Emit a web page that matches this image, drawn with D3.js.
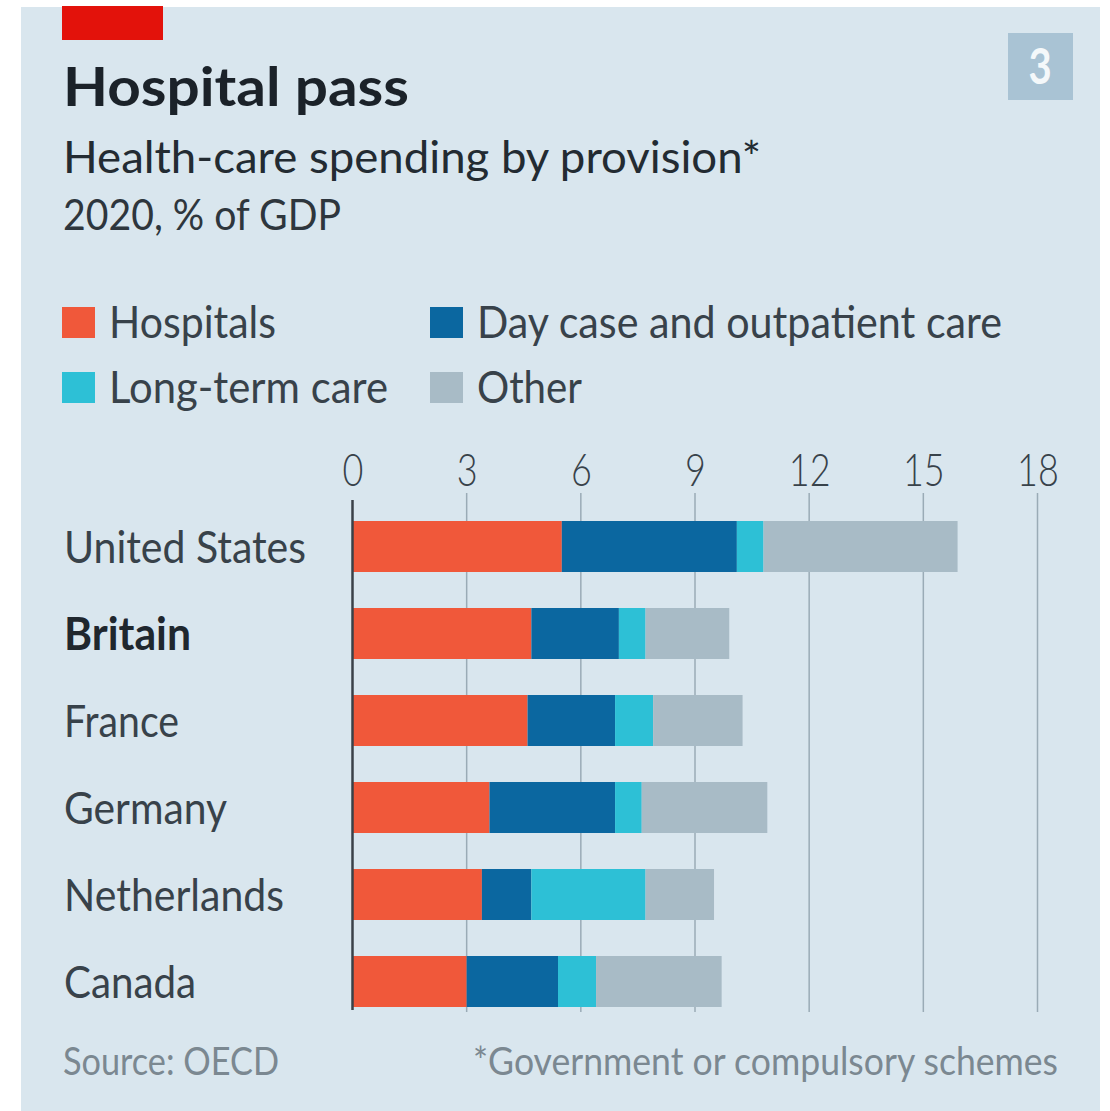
<!DOCTYPE html>
<html><head><meta charset="utf-8">
<script src="https://cdn.jsdelivr.net/npm/d3@7"></script>
<style>
html,body{margin:0;padding:0;background:#fff;}
svg{display:block;}
</style></head>
<body>
<script>
const countries = ["United States","Britain","France","Germany","Netherlands","Canada"];
const seriesNames = ["Hospitals","Day case and outpatient care","Long-term care","Other"];
const hospitals = [5.5, 4.7, 4.6, 3.6, 3.4, 3.0];
const dayCase   = [4.6, 2.3, 2.3, 3.3, 1.3, 2.4];
const longTerm  = [0.7, 0.7, 1.0, 0.7, 3.0, 1.0];
const other     = [5.1, 2.2, 2.35, 3.3, 1.8, 3.3];
const tickValues = [0, 3, 6, 9, 12, 15, 18];
const colors = ["#f0583a", "#0b67a0", "#2dc0d6", "#a8bbc6"];

// layout (not data)
const W = 1110, H = 1111;
const font = "Lato,'Noto Sans',sans-serif";
const labelWidths = {"United States": 242, "Britain": 127, "France": 115, "Germany": 163, "Netherlands": 220, "Canada": 132};
const legendWidths = [167, 525, 279, 105];
const fit = (sel, w) => sel.attr("textLength", w).attr("lengthAdjust", "spacingAndGlyphs");
const condense = (sel, k) => sel.each(function () {
  const L = this.getComputedTextLength();
  d3.select(this).attr("textLength", L * k).attr("lengthAdjust", "spacingAndGlyphs");
});

const svg = d3.select("body").append("svg").attr("width", W).attr("height", H);

svg.append("rect").attr("x", 21).attr("y", 7).attr("width", 1079).attr("height", H - 7).attr("fill", "#d9e6ee");
svg.append("rect").attr("x", 62).attr("y", 6).attr("width", 101).attr("height", 34).attr("fill", "#e3120b");

// badge
svg.append("rect").attr("x", 1008).attr("y", 33).attr("width", 65).attr("height", 67).attr("fill", "#a9c3d4");
svg.append("text").attr("x", 1040).attr("y", 84).attr("text-anchor", "middle")
  .attr("font-family", font).attr("font-weight", 700).attr("font-size", 50).attr("fill", "#f4f8fa").text("3")
  .call(condense, 0.8);

svg.append("text").attr("x", 63).attr("y", 106).attr("font-family", font)
  .attr("font-weight", 700).attr("font-size", 54).attr("fill", "#1b2229").text("Hospital pass")
  .call(fit, 346);
svg.append("text").attr("x", 63).attr("y", 173).attr("font-family", font)
  .attr("font-size", 45).attr("fill", "#232b32").text("Health-care spending by provision*")
  .call(fit, 698);
svg.append("text").attr("x", 63).attr("y", 230).attr("font-family", font)
  .attr("font-size", 42).attr("fill", "#2e363d").text("2020, % of GDP")
  .call(fit, 278);

// legend
const legendPos = [[62, 307], [430, 307], [62, 372], [430, 372]];
const lg = svg.append("g").selectAll("g").data(seriesNames).join("g")
  .attr("transform", (d, i) => `translate(${legendPos[i][0]},${legendPos[i][1]})`);
lg.append("rect").attr("width", 33).attr("height", 31).attr("fill", (d, i) => colors[i]);
lg.append("text").attr("x", 47).attr("y", 31).attr("font-family", font).attr("font-size", 45)
  .attr("fill", "#38424a").text(d => d)
  .each(function (d, i) { d3.select(this).call(fit, legendWidths[i]); });

// scales
const x = d3.scaleLinear().domain([0, 18]).range([352.5, 1037.5]);
const y = d3.scaleBand().domain(countries).range([503, 1025]).paddingInner(0.414).paddingOuter(0.207);

const axis = svg.append("g").attr("transform", "translate(0,486)")
  .call(d3.axisTop(x).tickValues(tickValues).tickSize(0).tickPadding(0));
axis.select(".domain").remove();
axis.selectAll("text").attr("font-family", font).attr("font-size", 45).attr("font-weight", 300)
  .attr("fill", "#38424a").attr("dy", 0)
  .call(condense, 0.8);

// gridlines
svg.append("g").selectAll("line").data(tickValues.slice(1)).join("line")
  .attr("x1", d => x(d)).attr("x2", d => x(d)).attr("y1", 493).attr("y2", 1012)
  .attr("stroke", "#9aabb6").attr("stroke-width", 1.5);

// stacked bars
const rows = countries.map((c, i) => ({country: c, vals: [hospitals[i], dayCase[i], longTerm[i], other[i]]}));
const segs = [];
rows.forEach(r => { let acc = 0; r.vals.forEach((v, k) => { segs.push({country: r.country, k, x0: acc, x1: acc + v}); acc += v; }); });
svg.append("g").selectAll("rect").data(segs).join("rect")
  .attr("x", d => x(d.x0)).attr("width", d => x(d.x1) - x(d.x0))
  .attr("y", d => y(d.country)).attr("height", y.bandwidth())
  .attr("fill", d => colors[d.k]);

// zero line
svg.append("line").attr("x1", x(0)).attr("x2", x(0)).attr("y1", 500).attr("y2", 1010)
  .attr("stroke", "#3a4148").attr("stroke-width", 2.5);

// row labels
svg.append("g").selectAll("text").data(countries).join("text")
  .attr("x", 64).attr("y", d => y(d) + y.bandwidth() / 2).attr("dy", "0.36em")
  .attr("font-family", font).attr("font-size", 45)
  .attr("font-weight", d => d === "Britain" ? 700 : 400)
  .attr("fill", d => d === "Britain" ? "#1f272e" : "#38424a").text(d => d)
  .each(function (d) { d3.select(this).call(fit, labelWidths[d]); });

// footer
svg.append("text").attr("x", 63).attr("y", 1075).attr("font-family", font).attr("font-size", 38)
  .attr("fill", "#7b8891").text("Source: OECD").call(fit, 216);
svg.append("text").attr("x", 1058).attr("y", 1075).attr("text-anchor", "end").attr("font-family", font).attr("font-size", 38)
  .attr("fill", "#7b8891").text("*Government or compulsory schemes").call(fit, 585);
</script>
</body></html>
